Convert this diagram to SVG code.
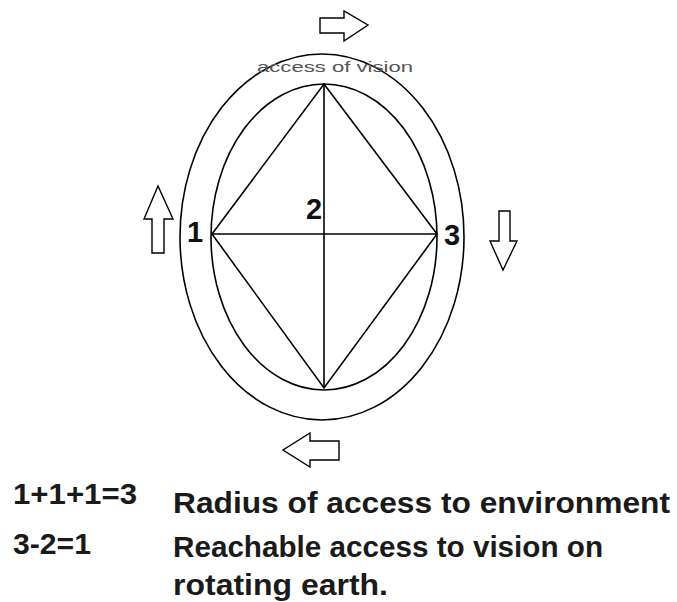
<svg xmlns="http://www.w3.org/2000/svg" width="677" height="602" viewBox="0 0 677 602">
<style>
.ln{fill:none;stroke:#000;stroke-width:1.6}
.ar{fill:#fff;stroke:#000;stroke-width:1.4;stroke-linejoin:miter}
.lbl{font-family:"Liberation Sans",Arial,sans-serif;font-weight:bold;fill:#111;font-size:29px}
.txt{font-family:"Liberation Sans",Arial,sans-serif;font-weight:bold;fill:#1a1a1a;font-size:29px}
</style>
<rect width="677" height="602" fill="#fff"/>
<g id="outer-ellipse"><ellipse class="ln" cx="322" cy="237" rx="142" ry="183"/></g>
<g id="inner-ellipse"><ellipse class="ln" cx="324" cy="237" rx="113" ry="153"/></g>
<g id="connectors">
<polygon class="ln" points="324,84 437,234 324,388 212,234"/>
<line class="ln" x1="324" y1="84" x2="324" y2="388"/>
<line class="ln" x1="212" y1="234" x2="437" y2="234"/>
</g>
<g id="arrow-top"><polygon class="ar" points="320,18 344,18 344,11 368,25 344,41 344,33 320,33"/></g>
<g id="arrow-left"><polygon class="ar" points="152,253 152,219 144,219 158,186 173,219 164,219 164,253"/></g>
<g id="arrow-right"><polygon class="ar" points="499,211 510,211 510,241 517,241 503,270 490,241 499,241"/></g>
<g id="arrow-bottom"><polygon class="ar" points="339,441 310,441 310,433 283,450 310,467 310,460 339,460"/></g>
<g id="label-vision"><text x="257" y="72" font-family="Liberation Sans,Arial,sans-serif" font-size="15" fill="#555" textLength="156" lengthAdjust="spacingAndGlyphs">access of vision</text></g>
<g id="node-1"><text class="lbl" x="187" y="242">1</text></g>
<g id="node-2"><text class="lbl" x="306" y="219">2</text></g>
<g id="node-3"><text class="lbl" x="444" y="245">3</text></g>
<g id="legend">
<text class="txt" x="13" y="504" textLength="124" lengthAdjust="spacingAndGlyphs">1+1+1=3</text>
<text class="txt" x="173" y="513" textLength="497" lengthAdjust="spacingAndGlyphs">Radius of access to environment</text>
<text class="txt" x="13" y="554" textLength="78" lengthAdjust="spacingAndGlyphs">3-2=1</text>
<text class="txt" x="173" y="557" textLength="430" lengthAdjust="spacingAndGlyphs">Reachable access to vision on</text>
<text class="txt" x="173" y="595" textLength="215" lengthAdjust="spacingAndGlyphs">rotating earth.</text>
</g>
</svg>
